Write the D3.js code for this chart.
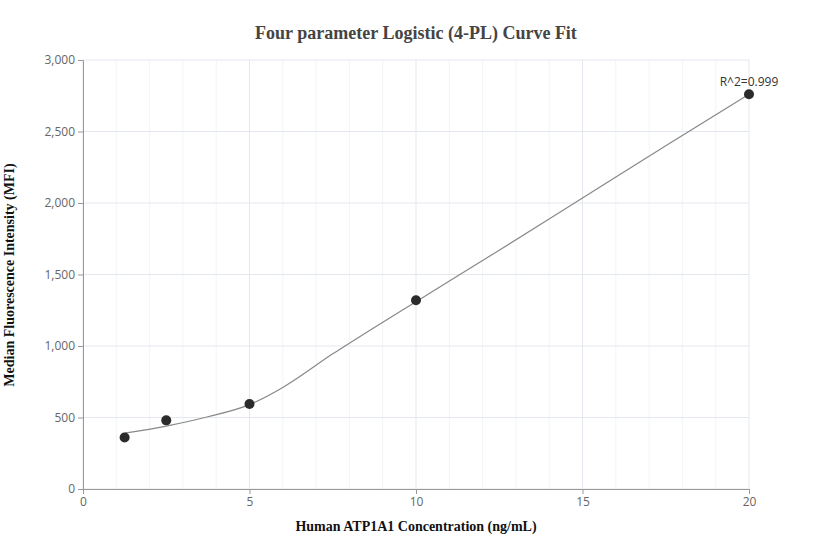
<!DOCTYPE html>
<html><head><meta charset="utf-8">
<script src="https://cdn.jsdelivr.net/npm/d3@7"></script>
<style>body{margin:0;background:#fff}</style></head>
<body><svg id="c" width="832" height="560"></svg>
<script>
const pointX=[1.25,2.5,5,10,20];
const pointY=[360,480,595,1320,2760];
const curveX=[1.25,2.5,3.75,5,6,7.5,8.75,10,12.5,15,17.5,20];
const curveY=[390,440,505,590,710,945,1130,1310,1670,2035,2400,2760];
const xTicks=[0,5,10,15,20];
const yTicks=[0,500,1000,1500,2000,2500,3000];
const svg=d3.select("#c");
const x=d3.scaleLinear().domain([0,20]).range([83,749]);
const y=d3.scaleLinear().domain([0,3000]).range([489,60]);
const g=svg.append("g");
g.selectAll(".vm").data(d3.range(0,21)).join("line").attr("x1",d=>x(d)).attr("x2",d=>x(d)).attr("y1",60).attr("y2",489).attr("stroke",d=>d%5===0?"#e3e7ee":"#f2f4f7").attr("stroke-width",1);
g.selectAll(".hm").data(yTicks).join("line").attr("x1",83).attr("x2",749).attr("y1",d=>y(d)).attr("y2",d=>y(d)).attr("stroke","#e3e7ee");
const xa=svg.append("g").attr("transform","translate(0,489)").call(d3.axisBottom(x).tickValues(xTicks).tickSize(5).tickFormat(d3.format("d")));
const ya=svg.append("g").attr("transform","translate(83,0)").call(d3.axisLeft(y).tickValues(yTicks).tickSize(5).tickFormat(d3.format(",")));
[xa,ya].forEach(a=>{a.selectAll("path,line").attr("stroke","#999");a.selectAll("text").attr("fill","#666").style("font-family","Open Sans, sans-serif").style("font-size","12px");});
const cd=curveX.map((v,i)=>[v,curveY[i]]);
svg.append("path").datum(cd).attr("d",d3.line().x(d=>x(d[0])).y(d=>y(d[1])).curve(d3.curveMonotoneX)).attr("fill","none").attr("stroke","#888").attr("stroke-width",1.2);
svg.selectAll(".p").data(pointX.map((v,i)=>[v,pointY[i]])).join("circle").attr("cx",d=>x(d[0])).attr("cy",d=>y(d[1])).attr("r",5).attr("fill","#2b2b2b");
svg.append("text").attr("x",749).attr("y",86).attr("text-anchor","middle").attr("fill","#333").style("font-family","Open Sans, sans-serif").style("font-size","12px").text("R^2=0.999");
svg.append("text").attr("x",416).attr("y",39).attr("text-anchor","middle").attr("fill","#444").style("font-family","Liberation Serif, serif").style("font-weight","bold").style("font-size","18px").text("Four parameter Logistic (4-PL) Curve Fit");
svg.append("text").attr("x",416).attr("y",531).attr("text-anchor","middle").attr("fill","#111").style("font-family","Liberation Serif, serif").style("font-weight","bold").style("font-size","14px").text("Human ATP1A1 Concentration (ng/mL)");
svg.append("text").attr("transform","translate(14,275) rotate(-90)").attr("text-anchor","middle").attr("fill","#111").style("font-family","Liberation Serif, serif").style("font-weight","bold").style("font-size","14px").text("Median Fluorescence Intensity (MFI)");
</script></body></html>
